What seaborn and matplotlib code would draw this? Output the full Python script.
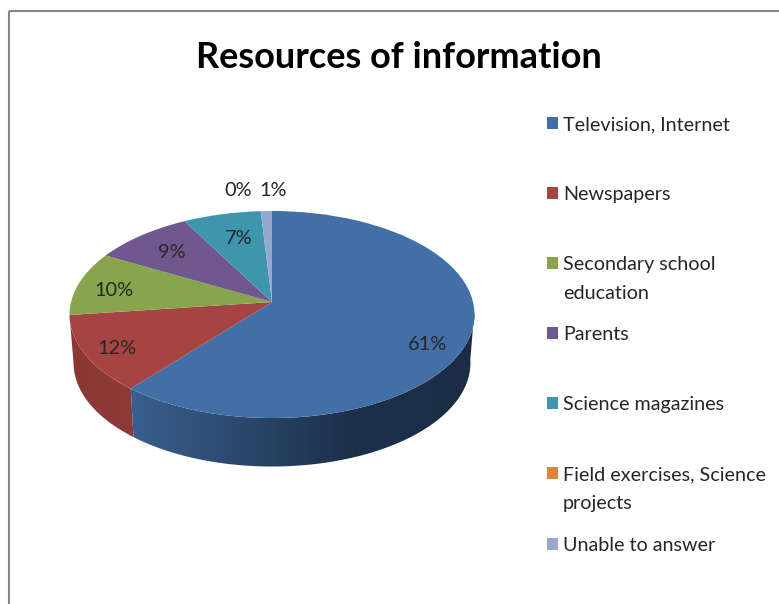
import numpy as np
import matplotlib
matplotlib.use("Agg")
import matplotlib.pyplot as plt
import seaborn as sns
from matplotlib.transforms import Transform
from matplotlib.patches import Polygon, Rectangle
from matplotlib.colors import LinearSegmentedColormap

title = "Resources of information"
categories = ["Television, Internet", "Newspapers", "Secondary school\neducation", "Parents",
              "Science magazines", "Field exercises, Science\nprojects", "Unable to answer"]
values = [61, 12, 10, 9, 7, 0, 1]
colors = ["#426FA5", "#A54442", "#88A44C", "#70588F", "#3E96AE", "#DE8539", "#95A9D0"]

label_xy = [(428, 344), (117, 348), (114, 290), (172, 253), (239, 238), (238, 190), (273, 190)]
legend_rows = [123, 193, 263, 333, 403, 473, 544]

sns.set_theme(style="white")
FONT = "Lato"
TXT = "#262626"
W, H = 779, 604
fig = plt.figure(figsize=(W / 100, H / 100), dpi=100, facecolor="white")
ax = fig.add_axes([0, 0, 1, 1])

APEX = (272.0, 302.0)
A, P, K = 201.0, 102.0, 0.1208
DEPTH = 48.5
SHRINK = 0.98


class Tilt(Transform):
    """Perspective view of the unit-circle pie, in pixel coordinates."""
    input_dims = output_dims = 2
    has_inverse = False

    def transform_non_affine(self, xy):
        xy = np.asarray(xy, dtype=float)
        d = 1 + K * xy[:, 1]
        return np.column_stack([APEX[0] + A * xy[:, 0] / d, APEX[1] - P * xy[:, 1] / d])


palette = sns.color_palette(colors)
wedges, _ = ax.pie(values, colors=palette, startangle=90, counterclock=False, radius=1,
                   normalize=True, wedgeprops=dict(linewidth=0))
tilt = Tilt() + ax.transData
for w in wedges:
    w.set_transform(tilt)
    w.set_zorder(3)

ax.set_aspect("auto")
ax.set_frame_on(False)


def rim(a0, a1, n=120):
    th = np.radians(np.linspace(a0, a1, n))
    return Tilt().transform_non_affine(np.column_stack([np.sin(th), np.cos(th)]))


side_cmaps = {
    1: (LinearSegmentedColormap.from_list("r", ["#8A3735", "#8F3A38"]), 60, 145),
    0: (LinearSegmentedColormap.from_list("b", [(0, "#3A6090"), (0.16, "#33557F"), (0.65, "#1C3049"), (1, "#1A2D45")]), 125, 475),
}
cum = np.cumsum([0] + values) / sum(values) * 360
for i, (cmap, x0, x1) in side_cmaps.items():
    a0, a1 = max(cum[i], 95), min(cum[i + 1], 265)
    top = rim(a0, a1)
    bot = top.copy()
    bot[:, 0] = APEX[0] + (bot[:, 0] - APEX[0]) * SHRINK
    bot[:, 1] += DEPTH
    poly = Polygon(np.vstack([top, bot[::-1]]), closed=True, transform=ax.transData,
                   facecolor="none", edgecolor="none")
    ax.add_patch(poly)
    im = ax.imshow(np.linspace(0, 1, 256)[None, :], cmap=cmap, aspect="auto",
                   extent=(x0, x1, 480, 300), zorder=2, interpolation="bilinear")
    im.set_clip_path(poly)

ax.set_xlim(0, W)
ax.set_ylim(H, 0)
ax.set_xticks([])
ax.set_yticks([])

# outer chart frame, only partly inside the crop
ax.add_patch(Rectangle((9, 11), W + 20, H + 20, facecolor="none", edgecolor="#868686", linewidth=1.5, zorder=1))

ax.text(398.5, 58, title, fontsize=26, fontweight="bold", family=FONT, color="#000000",
        ha="center", va="center", zorder=5)

for v, (x, y) in zip(values, label_xy):
    ax.text(x, y, f"{v}%", fontsize=14.4, family=FONT, color=TXT, ha="center", va="center", zorder=5)

for cat, col, y in zip(categories, palette, legend_rows):
    ax.add_patch(Rectangle((546.7, y - 5.8), 11.6, 11.6, facecolor=col, edgecolor="none", zorder=5))
    ax.text(563, y - 7, cat, fontsize=14.2, family=FONT, color=TXT, ha="left", va="top",
            linespacing=1.85, zorder=5)

fig.savefig("out.png", dpi=100, facecolor="white")
